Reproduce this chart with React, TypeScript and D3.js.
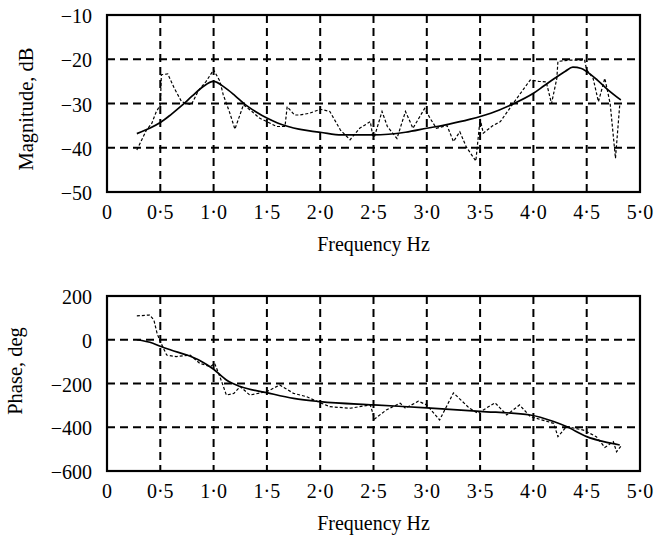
import React from 'react';
import * as d3 from 'd3';

// frequency axis (Hz)
const freqTicks = [0, 0.5, 1.0, 1.5, 2.0, 2.5, 3.0, 3.5, 4.0, 4.5, 5.0];
const freqLabels = ['0', '0·5', '1·0', '1·5', '2·0', '2·5', '3·0', '3·5', '4·0', '4·5', '5·0'];

const magTicks = [-10, -20, -30, -40, -50];
const phaseTicks = [200, 0, -200, -400, -600];

// magnitude, dB: fitted model (solid) and measured (dotted)
const magModel = [
  [0.28, -36.8], [0.4, -35.6], [0.5, -34.3], [0.6, -32.5], [0.7, -30.5], [0.8, -28.3],
  [0.9, -26.2], [1.0, -25.0], [1.1, -26.3], [1.2, -28.2], [1.3, -30.3], [1.4, -31.9],
  [1.5, -33.3], [1.6, -34.4], [1.7, -35.2], [1.8, -35.8], [1.9, -36.2], [2.0, -36.5],
  [2.2, -37.1], [2.5, -37.1], [2.8, -36.5], [3.0, -35.6], [3.2, -34.7], [3.4, -33.6],
  [3.6, -32.2], [3.8, -30.2], [4.0, -27.7], [4.1, -26.0], [4.2, -24.3], [4.3, -22.7],
  [4.37, -21.8], [4.45, -22.1], [4.5, -22.8], [4.6, -24.7], [4.7, -26.9], [4.82, -29.2],
];

const magMeasured = [
  [0.28, -40.5], [0.33, -38], [0.37, -36], [0.42, -34.5], [0.46, -32], [0.5, -30.3],
  [0.51, -23.5], [0.57, -23.3], [0.63, -26.5], [0.7, -29.6], [0.79, -30.3], [0.86, -27],
  [0.93, -25], [1.0, -22.4], [1.06, -25], [1.09, -28], [1.15, -32], [1.2, -35.8],
  [1.28, -30.3], [1.36, -31.8], [1.43, -33.3], [1.5, -34.1], [1.59, -35.2], [1.67, -35.2],
  [1.69, -30.7], [1.76, -32.6], [1.81, -32.6], [1.9, -32.2], [2.0, -31.3], [2.09, -31.8],
  [2.19, -36], [2.28, -38.2], [2.37, -35.6], [2.47, -34.1], [2.5, -38.2], [2.58, -31.8],
  [2.63, -35.2], [2.72, -37.9], [2.8, -31.8], [2.87, -35.6], [2.98, -31.1], [3.03, -33.3],
  [3.09, -35.6], [3.19, -35], [3.25, -38.6], [3.31, -36.4], [3.37, -39.8], [3.46, -43],
  [3.5, -33.5], [3.53, -36.7], [3.62, -35], [3.69, -34.1], [3.81, -30], [3.9, -27],
  [3.97, -24.7], [4.05, -25], [4.12, -25.1], [4.17, -30], [4.22, -24.3], [4.23, -20.5],
  [4.34, -20.2], [4.48, -20.2], [4.5, -22.4], [4.56, -24.3], [4.61, -29.6], [4.67, -24.3],
  [4.72, -30], [4.77, -42.4], [4.81, -30.3],
];

// phase, deg
const phaseModel = [
  [0.28, 0], [0.43, -16], [0.5, -30], [0.6, -47], [0.75, -70], [0.87, -95], [1.0, -135],
  [1.12, -184], [1.25, -214], [1.5, -242], [1.75, -268], [2.0, -283], [2.5, -298],
  [3.0, -311], [3.5, -327], [3.97, -344], [4.19, -374], [4.31, -397], [4.5, -443],
  [4.66, -466], [4.81, -481],
];

const phaseMeasured = [
  [0.28, 109], [0.4, 113], [0.44, 90], [0.47, 29], [0.5, -9], [0.56, -70], [0.65, -77],
  [0.78, -70], [0.87, -108], [0.97, -123], [1.01, -108], [1.06, -170], [1.12, -253],
  [1.19, -245], [1.25, -214], [1.34, -253], [1.5, -237], [1.62, -207], [1.75, -245],
  [1.87, -260], [2.0, -288], [2.09, -306], [2.28, -313], [2.47, -298], [2.51, -362],
  [2.62, -321], [2.75, -290], [2.8, -313], [2.92, -281], [3.0, -298], [3.12, -367],
  [3.25, -243], [3.4, -313], [3.48, -336], [3.64, -288], [3.75, -344], [3.87, -298],
  [3.97, -351], [4.19, -382], [4.23, -443], [4.31, -397], [4.47, -413], [4.59, -443],
  [4.67, -492], [4.75, -466], [4.78, -512], [4.83, -481],
];

const FONT = '"Liberation Serif", "Times New Roman", serif';

function Panel(props: any) {
  const { top, height, domain, ticks, tickLabel, model, measured, yTitle, titleY } = props;
  const left = 107;
  const right = 640;

  const x = d3.scaleLinear().domain([0, 5]).range([left, right]);
  const y = d3.scaleLinear().domain(domain).range([top + height, top]);

  const solid = d3.line<number[]>()
    .x(d => x(d[0]))
    .y(d => y(d[1]))
    .curve(d3.curveMonotoneX);

  const dotted = d3.line<number[]>()
    .x(d => x(d[0]))
    .y(d => y(d[1]));

  const bottom = top + height;

  return (
    <g>
      {/* grid */}
      {ticks.filter((t: number) => t !== domain[0] && t !== domain[1]).map((t: number) => (
        <line key={'h' + t} x1={left} x2={right} y1={y(t)} y2={y(t)}
              stroke="#000" strokeWidth={2} strokeDasharray="8,5" />
      ))}
      {freqTicks.filter(t => t > 0 && t < 5).map(t => (
        <line key={'v' + t} x1={x(t)} x2={x(t)} y1={top} y2={bottom}
              stroke="#000" strokeWidth={2} strokeDasharray="8,5" />
      ))}

      <path d={dotted(measured) || ''} fill="none" stroke="#000" strokeWidth={1.2}
            strokeDasharray="3,2" />
      <path d={solid(model) || ''} fill="none" stroke="#000" strokeWidth={1.7} />

      <rect x={left} y={top} width={right - left} height={height}
            fill="none" stroke="#000" strokeWidth={2.2} />

      {/* tick labels */}
      {ticks.map((t: number) => (
        <text key={'yl' + t} x={92} y={y(t) + 8} textAnchor="end"
              fontFamily={FONT} fontSize={20}>{tickLabel(t)}</text>
      ))}
      {freqTicks.map((t, i) => (
        <text key={'xl' + t} x={x(t)} y={bottom + 27} textAnchor="middle"
              fontFamily={FONT} fontSize={20}>{freqLabels[i]}</text>
      ))}

      <text x={x(2.5)} y={bottom + 59} textAnchor="middle"
            fontFamily={FONT} fontSize={20}>Frequency Hz</text>
      <text transform={`translate(${props.titleX},${titleY}) rotate(-90)`}
            textAnchor="middle" fontFamily={FONT} fontSize={20.5}>{yTitle}</text>
    </g>
  );
}

const fmt = (t: number) => (t < 0 ? '\u2212' + Math.abs(t) : String(t));

export default function App() {
  return (
    <svg width={656} height={536}
         style={{ position: 'absolute', left: 0, top: 0, background: '#fff' }}>
      <Panel top={15} height={177} domain={[-50, -10]} ticks={magTicks} tickLabel={fmt}
             model={magModel} measured={magMeasured} yTitle="Magnitude, dB"
             titleX={33} titleY={109} />
      <Panel top={296} height={175} domain={[-600, 200]} ticks={phaseTicks} tickLabel={fmt}
             model={phaseModel} measured={phaseMeasured} yTitle="Phase, deg"
             titleX={22} titleY={371} />
    </svg>
  );
}
